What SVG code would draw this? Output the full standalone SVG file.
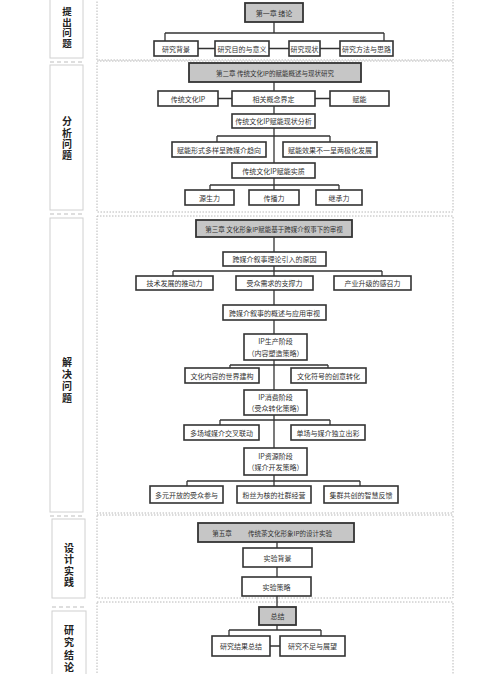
<svg xmlns="http://www.w3.org/2000/svg" width="500" height="674" viewBox="0 0 500 674">
<style>
.bg{fill:#ffffff}
.sec{fill:none;stroke:#b8b8b8;stroke-width:1;stroke-dasharray:1.5 1.5}
.lbox{fill:none;stroke:#d0d0d0;stroke-width:1}
.ldash{stroke:#bdbdbd;stroke-width:1.2;stroke-dasharray:4 3}
.box{fill:#ffffff;stroke:#333333;stroke-width:1.6}
.gbox{fill:#c6c6c6;stroke:#333333;stroke-width:1.8}
.t{font-family:"Noto Sans CJK SC","Noto Sans",sans-serif;font-size:7px;fill:#333333;text-anchor:middle;dominant-baseline:central}
.ts{font-size:6.5px}
.lab{font-family:"Noto Sans CJK SC","Noto Sans",sans-serif;font-size:10px;font-weight:bold;fill:#222222;text-anchor:middle;writing-mode:vertical-rl}
.c{fill:none;stroke:#333333;stroke-width:1.3}
</style>
<rect class="bg" x="0" y="0" width="500" height="674"/>

<g id="frames">
<rect class="sec" x="97" y="-2" width="356" height="62"/>
<rect class="sec" x="97" y="61" width="356" height="151"/>
<rect class="sec" x="97" y="216" width="356" height="297"/>
<rect class="sec" x="97" y="515" width="356" height="83"/>
<rect class="sec" x="97" y="602" width="356" height="80"/>
<rect class="lbox" x="50" y="-2" width="33" height="60"/>
<line class="ldash" x1="50" y1="62" x2="83" y2="62"/>
<rect class="lbox" x="50" y="65" width="33" height="145"/>
<line class="ldash" x1="50" y1="214" x2="83" y2="214"/>
<rect class="lbox" x="50" y="218" width="33" height="294"/>
<line class="ldash" x1="50" y1="516" x2="83" y2="516"/>
<rect class="lbox" x="52" y="519" width="33" height="79"/>
<line class="ldash" x1="52" y1="607" x2="86" y2="607"/>
<rect class="lbox" x="52" y="611" width="34" height="70"/>
</g>

<g id="labels">
<text class="lab" x="67" y="28" style="font-size:9.5px;letter-spacing:1px">提出问题</text>
<text class="lab" x="67" y="139" style="letter-spacing:1.2px">分析问题</text>
<text class="lab" x="67" y="381" style="letter-spacing:2px">解决问题</text>
<text class="lab" x="69" y="566" style="letter-spacing:1.4px">设计实践</text>
<text class="lab" x="69" y="650" style="letter-spacing:2.3px">研究结论</text>
</g>

<g id="connectors">
<path class="c" d="M274 22V33M165 33H384M165 33V41M384 33V41M198 48.5H215M269 48.5H289M320 48.5H340"/>
<path class="c" d="M274 82V91M218 98.5H232M315 98.5H330M274 106V114M274 128V163M217 136H330M217 136V142M330 136V142"/>
<path class="c" d="M274 178V190M210 185H339M210 185V190M339 185V190"/>
<path class="c" d="M274 237V252M274 266V305M173 271H382M173 271V276M382 271V276"/>
<path class="c" d="M274 320V334M274 360V390M230 365H328M230 365V368M328 365V368"/>
<path class="c" d="M274 415V448M220 420H330M220 420V425M330 420V425"/>
<path class="c" d="M274 475V486M187 481H360M187 481V486M360 481V486"/>
<path class="c" d="M277 542V548M277 567V577M277 596V607M277 625V630M229 630H321M229 630V636M321 630V636M270 646H280"/>
</g>

<g id="n_ch1"><rect class="gbox" x="245" y="3" width="58" height="19"/><text class="t" x="274" y="12.5">第一章 绪论</text></g>
<g id="n_bg"><rect class="box" x="154" y="41" width="44" height="15"/><text class="t" x="176" y="48.5">研究背景</text></g>
<g id="n_purpose"><rect class="box" x="215" y="41" width="54" height="15"/><text class="t" x="242" y="48.5">研究目的与意义</text></g>
<g id="n_status"><rect class="box" x="289" y="41" width="31" height="15"/><text class="t" x="304.5" y="48.5">研究现状</text></g>
<g id="n_method"><rect class="box" x="340" y="41" width="53" height="15"/><text class="t" x="366.5" y="48.5">研究方法与思路</text></g>

<g id="n_ch2"><rect class="gbox" x="189" y="63" width="172" height="19"/><text class="t ts" x="275" y="72.5">第二章 传统文化IP的赋能概述与现状研究</text></g>
<g id="n_ip"><rect class="box" x="158" y="91" width="60" height="15"/><text class="t" x="188" y="98.5">传统文化IP</text></g>
<g id="n_concept"><rect class="box" x="232" y="91" width="83" height="15"/><text class="t" x="273.5" y="98.5">相关概念界定</text></g>
<g id="n_empower"><rect class="box" x="330" y="91" width="59" height="15"/><text class="t" x="359.5" y="98.5">赋能</text></g>
<g id="n_analysis"><rect class="box" x="232" y="114" width="83" height="14"/><text class="t" x="273.5" y="121">传统文化IP赋能现状分析</text></g>
<g id="n_form"><rect class="box" x="172" y="142" width="94" height="15"/><text class="t" x="219" y="149.5">赋能形式多样呈跨媒介趋向</text></g>
<g id="n_effect"><rect class="box" x="283" y="142" width="94" height="15"/><text class="t" x="330" y="149.5">赋能效果不一呈两极化发展</text></g>
<g id="n_essence"><rect class="box" x="232" y="163" width="83" height="15"/><text class="t" x="273.5" y="170.5">传统文化IP赋能实质</text></g>
<g id="n_src"><rect class="box" x="185" y="190" width="49" height="15"/><text class="t" x="209.5" y="197.5">源生力</text></g>
<g id="n_spread"><rect class="box" x="249" y="190" width="50" height="15"/><text class="t" x="274" y="197.5">传播力</text></g>
<g id="n_inherit"><rect class="box" x="316" y="190" width="46" height="15"/><text class="t" x="339" y="197.5">继承力</text></g>

<g id="n_ch3"><rect class="gbox" x="196" y="220" width="156" height="17"/><text class="t ts" x="274" y="228.5">第三章 文化形象IP赋能基于跨媒介叙事下的审视</text></g>
<g id="n_reason"><rect class="box" x="223" y="252" width="103" height="14"/><text class="t" x="274.5" y="259">跨媒介叙事理论引入的原因</text></g>
<g id="n_tech"><rect class="box" x="136" y="276" width="77" height="14"/><text class="t" x="174.5" y="283">技术发展的推动力</text></g>
<g id="n_aud"><rect class="box" x="236" y="276" width="77" height="14"/><text class="t" x="274.5" y="283">受众需求的支撑力</text></g>
<g id="n_ind"><rect class="box" x="334" y="276" width="77" height="14"/><text class="t" x="372.5" y="283">产业升级的感召力</text></g>
<g id="n_overview"><rect class="box" x="223" y="305" width="103" height="15"/><text class="t" x="274.5" y="312.5">跨媒介叙事的概述与应用审视</text></g>
<g id="n_prod"><rect class="box" x="244" y="334" width="63" height="26"/><text class="t" x="275.5" y="341">IP生产阶段</text><text class="t" x="275.5" y="352.5">（内容塑造策略）</text></g>
<g id="n_world"><rect class="box" x="185" y="368" width="74" height="15"/><text class="t" x="222" y="375.5">文化内容的世界建构</text></g>
<g id="n_symbol"><rect class="box" x="291" y="368" width="75" height="15"/><text class="t" x="328.5" y="375.5">文化符号的创意转化</text></g>
<g id="n_cons"><rect class="box" x="244" y="390" width="63" height="25"/><text class="t" x="275.5" y="397">IP消费阶段</text><text class="t" x="275.5" y="408">（受众转化策略）</text></g>
<g id="n_multi"><rect class="box" x="184" y="425" width="75" height="15"/><text class="t" x="221.5" y="432.5">多场域媒介交叉联动</text></g>
<g id="n_single"><rect class="box" x="291" y="425" width="74" height="15"/><text class="t" x="328" y="432.5">单场与媒介独立出彩</text></g>
<g id="n_res"><rect class="box" x="244" y="448" width="63" height="27"/><text class="t" x="275.5" y="455.5">IP资源阶段</text><text class="t" x="275.5" y="467">（媒介开发策略）</text></g>
<g id="n_open"><rect class="box" x="150" y="486" width="73" height="17"/><text class="t" x="186.5" y="494.5">多元开放的受众参与</text></g>
<g id="n_fans"><rect class="box" x="237" y="486" width="74" height="17"/><text class="t" x="274" y="494.5">粉丝为核的社群经营</text></g>
<g id="n_cluster"><rect class="box" x="324" y="486" width="74" height="17"/><text class="t" x="361" y="494.5">集群共创的智慧反馈</text></g>

<g id="n_ch5"><rect class="gbox" x="198" y="523" width="156" height="19"/><text class="t ts" x="222" y="532.5">第五章</text><text class="t ts" x="290" y="532.5">传统茶文化形象IP的设计实验</text></g>
<g id="n_expbg"><rect class="box" x="243" y="548" width="69" height="19"/><text class="t" x="277.5" y="557.5">实验背景</text></g>
<g id="n_expst"><rect class="box" x="242" y="577" width="69" height="19"/><text class="t" x="276.5" y="586.5">实验策略</text></g>

<g id="n_sum"><rect class="gbox" x="259" y="607" width="37" height="18"/><text class="t" x="277.5" y="616">总结</text></g>
<g id="n_result"><rect class="box" x="212" y="636" width="58" height="20"/><text class="t" x="241" y="646">研究结果总结</text></g>
<g id="n_lack"><rect class="box" x="280" y="636" width="65" height="20"/><text class="t" x="312.5" y="646">研究不足与展望</text></g>
</svg>
